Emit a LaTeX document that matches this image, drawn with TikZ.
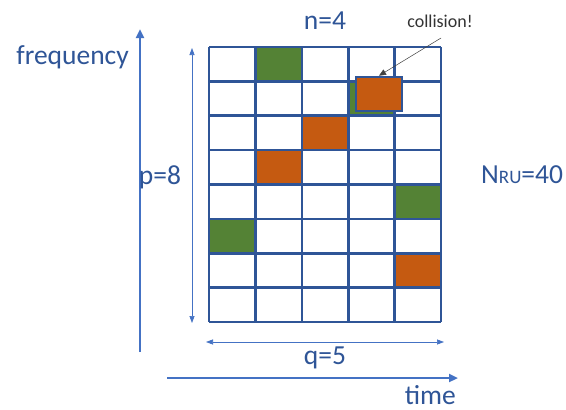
\documentclass[tikz,border=0pt]{standalone}
\usepackage{fontspec}
\setmainfont{Carlito}
\usetikzlibrary{arrows.meta}
\definecolor{gridblue}{HTML}{2F5597}
\definecolor{axisblue}{HTML}{4472C4}
\definecolor{txtblue}{HTML}{2F5597}
\definecolor{rugreen}{HTML}{548235}
\definecolor{ruorange}{HTML}{C55A11}
\begin{document}
\begin{tikzpicture}[x=1pt,y=-1pt,
  gridline/.style={draw=gridblue,line width=2.6pt},
  axis/.style={draw=axisblue,line width=2.8pt,-{Triangle[length=9pt,width=8pt]}},
  span/.style={draw=axisblue,line width=0.7pt,{Triangle[length=7pt,width=5pt]}-{Triangle[length=7pt,width=5pt]}},
  lbl/.style={text=txtblue,font=\fontsize{27.5}{30}\selectfont,inner sep=0pt},
  greencell/.style={fill=rugreen},
  orangecell/.style={fill=ruorange}]
\useasboundingbox (0,0) rectangle (566,410);
\fill[white] (0,0) rectangle (566,410);

% resource grid: 5 time slots x 8 frequency channels
\def\gx{209}\def\gy{47}\def\cw{46.4}\def\rh{34.375}
\newcommand{\rucell}[3]{%
  \fill[#3] ({\gx+#1*\cw},{\gy+#2*\rh}) rectangle ({\gx+(#1+1)*\cw},{\gy+(#2+1)*\rh});}
\rucell{1}{0}{rugreen}
\rucell{3}{1}{rugreen}
\rucell{2}{2}{ruorange}
\rucell{1}{3}{ruorange}
\rucell{4}{4}{rugreen}
\rucell{0}{5}{rugreen}
\rucell{4}{6}{ruorange}
\foreach \i in {0,...,5}
  \draw[gridline] ({\gx+\i*\cw},\gy) -- ({\gx+\i*\cw},{\gy+8*\rh});
\foreach \j in {0,...,8}
  \draw[gridline] (\gx,{\gy+\j*\rh}) -- ({\gx+5*\cw},{\gy+\j*\rh});

% colliding allocation drawn over the shared cell
\node[draw=gridblue,line width=2.6pt,fill=ruorange,minimum width=46pt,minimum height=34pt,inner sep=0pt] (coll) at (379,94) {};

% axes
\coordinate (f0) at (140,352);
\coordinate (f1) at (140,29);
\coordinate (t0) at (167,378);
\coordinate (t1) at (458,378);
\draw[axis] (f0) -- (f1);
\draw[axis] (t0) -- (t1);

% grid extents
\coordinate (p0) at (192,48);
\coordinate (p1) at (192,323);
\coordinate (q0) at (206,342);
\coordinate (q1) at (444,342);
\draw[span] (p0) -- (p1);
\draw[span] (q0) -- (q1);

% labels
\node[lbl,anchor=east] (freq) at (129,57) {frequency};
\node[lbl] (n) at (325,21) {n=4};
\node[lbl] (p) at (160,177) {p=8};
\node[lbl] (q) at (325,358) {q=5};
\node[lbl,anchor=base east] (time) at (456,404) {time};
\node[lbl,anchor=west] (nru) at (481,175) {N{\fontsize{19}{22}\selectfont RU}=40};
\node[font=\fontsize{18}{21}\selectfont,text=black!80,inner sep=0pt] (ctext) at (440,21) {collision!};

\draw[black!75,line width=0.5pt,-{Triangle[length=7pt,width=6pt]}] (441,38) -- (coll.north);
\end{tikzpicture}
\end{document}
